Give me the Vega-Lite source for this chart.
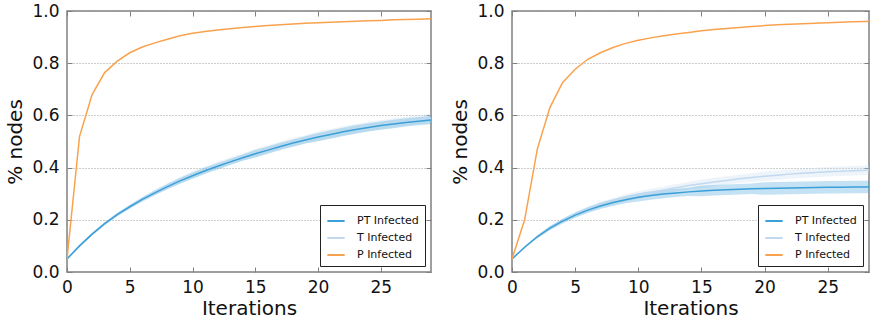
{
  "$schema": "https://vega.github.io/schema/vega-lite/v6.json",
  "padding": {"left": 5, "top": 1, "right": 0, "bottom": 0},
  "background": "white",
  "spacing": 81,
  "bounds": "flush",
  "datasets": {
    "L": [
      {"it":0,"s":"T Infected","v":0.05,"lo":0.05,"hi":0.05},
      {"it":1,"s":"T Infected","v":0.10,"lo":0.095,"hi":0.105},
      {"it":2,"s":"T Infected","v":0.145,"lo":0.139,"hi":0.151},
      {"it":3,"s":"T Infected","v":0.185,"lo":0.178,"hi":0.192},
      {"it":4,"s":"T Infected","v":0.22,"lo":0.212,"hi":0.228},
      {"it":5,"s":"T Infected","v":0.25,"lo":0.241,"hi":0.259},
      {"it":6,"s":"T Infected","v":0.279,"lo":0.269,"hi":0.289},
      {"it":7,"s":"T Infected","v":0.305,"lo":0.294,"hi":0.316},
      {"it":8,"s":"T Infected","v":0.329,"lo":0.317,"hi":0.341},
      {"it":9,"s":"T Infected","v":0.351,"lo":0.338,"hi":0.364},
      {"it":10,"s":"T Infected","v":0.371,"lo":0.357,"hi":0.385},
      {"it":11,"s":"T Infected","v":0.390,"lo":0.376,"hi":0.404},
      {"it":12,"s":"T Infected","v":0.408,"lo":0.394,"hi":0.422},
      {"it":13,"s":"T Infected","v":0.425,"lo":0.411,"hi":0.439},
      {"it":14,"s":"T Infected","v":0.441,"lo":0.427,"hi":0.455},
      {"it":15,"s":"T Infected","v":0.456,"lo":0.440,"hi":0.472},
      {"it":16,"s":"T Infected","v":0.470,"lo":0.454,"hi":0.486},
      {"it":17,"s":"T Infected","v":0.484,"lo":0.468,"hi":0.500},
      {"it":18,"s":"T Infected","v":0.497,"lo":0.481,"hi":0.513},
      {"it":19,"s":"T Infected","v":0.509,"lo":0.493,"hi":0.525},
      {"it":20,"s":"T Infected","v":0.520,"lo":0.502,"hi":0.538},
      {"it":21,"s":"T Infected","v":0.530,"lo":0.512,"hi":0.548},
      {"it":22,"s":"T Infected","v":0.540,"lo":0.522,"hi":0.558},
      {"it":23,"s":"T Infected","v":0.549,"lo":0.531,"hi":0.567},
      {"it":24,"s":"T Infected","v":0.557,"lo":0.539,"hi":0.575},
      {"it":25,"s":"T Infected","v":0.564,"lo":0.546,"hi":0.582},
      {"it":26,"s":"T Infected","v":0.571,"lo":0.553,"hi":0.589},
      {"it":27,"s":"T Infected","v":0.577,"lo":0.559,"hi":0.595},
      {"it":28,"s":"T Infected","v":0.583,"lo":0.565,"hi":0.601},
      {"it":29,"s":"T Infected","v":0.588,"lo":0.570,"hi":0.606},
      {"it":0,"s":"PT Infected","v":0.05,"lo":0.05,"hi":0.05},
      {"it":1,"s":"PT Infected","v":0.10,"lo":0.097,"hi":0.103},
      {"it":2,"s":"PT Infected","v":0.145,"lo":0.141,"hi":0.149},
      {"it":3,"s":"PT Infected","v":0.185,"lo":0.180,"hi":0.190},
      {"it":4,"s":"PT Infected","v":0.22,"lo":0.214,"hi":0.226},
      {"it":5,"s":"PT Infected","v":0.25,"lo":0.243,"hi":0.257},
      {"it":6,"s":"PT Infected","v":0.278,"lo":0.270,"hi":0.286},
      {"it":7,"s":"PT Infected","v":0.303,"lo":0.294,"hi":0.312},
      {"it":8,"s":"PT Infected","v":0.327,"lo":0.317,"hi":0.337},
      {"it":9,"s":"PT Infected","v":0.349,"lo":0.338,"hi":0.360},
      {"it":10,"s":"PT Infected","v":0.369,"lo":0.357,"hi":0.381},
      {"it":11,"s":"PT Infected","v":0.388,"lo":0.376,"hi":0.400},
      {"it":12,"s":"PT Infected","v":0.405,"lo":0.393,"hi":0.417},
      {"it":13,"s":"PT Infected","v":0.422,"lo":0.410,"hi":0.434},
      {"it":14,"s":"PT Infected","v":0.438,"lo":0.426,"hi":0.450},
      {"it":15,"s":"PT Infected","v":0.453,"lo":0.439,"hi":0.467},
      {"it":16,"s":"PT Infected","v":0.467,"lo":0.453,"hi":0.481},
      {"it":17,"s":"PT Infected","v":0.481,"lo":0.467,"hi":0.495},
      {"it":18,"s":"PT Infected","v":0.494,"lo":0.480,"hi":0.508},
      {"it":19,"s":"PT Infected","v":0.506,"lo":0.492,"hi":0.520},
      {"it":20,"s":"PT Infected","v":0.517,"lo":0.501,"hi":0.533},
      {"it":21,"s":"PT Infected","v":0.527,"lo":0.511,"hi":0.543},
      {"it":22,"s":"PT Infected","v":0.537,"lo":0.521,"hi":0.553},
      {"it":23,"s":"PT Infected","v":0.546,"lo":0.530,"hi":0.562},
      {"it":24,"s":"PT Infected","v":0.554,"lo":0.538,"hi":0.570},
      {"it":25,"s":"PT Infected","v":0.561,"lo":0.545,"hi":0.577},
      {"it":26,"s":"PT Infected","v":0.567,"lo":0.551,"hi":0.583},
      {"it":27,"s":"PT Infected","v":0.573,"lo":0.557,"hi":0.589},
      {"it":28,"s":"PT Infected","v":0.578,"lo":0.562,"hi":0.594},
      {"it":29,"s":"PT Infected","v":0.582,"lo":0.566,"hi":0.598},
      {"it":0,"s":"P Infected","v":0.05},
      {"it":1,"s":"P Infected","v":0.52},
      {"it":2,"s":"P Infected","v":0.68},
      {"it":3,"s":"P Infected","v":0.764},
      {"it":4,"s":"P Infected","v":0.808},
      {"it":5,"s":"P Infected","v":0.84},
      {"it":6,"s":"P Infected","v":0.862},
      {"it":7,"s":"P Infected","v":0.878},
      {"it":8,"s":"P Infected","v":0.892},
      {"it":9,"s":"P Infected","v":0.905},
      {"it":10,"s":"P Infected","v":0.915},
      {"it":11,"s":"P Infected","v":0.921},
      {"it":12,"s":"P Infected","v":0.927},
      {"it":13,"s":"P Infected","v":0.932},
      {"it":14,"s":"P Infected","v":0.937},
      {"it":15,"s":"P Infected","v":0.941},
      {"it":16,"s":"P Infected","v":0.944},
      {"it":17,"s":"P Infected","v":0.947},
      {"it":18,"s":"P Infected","v":0.950},
      {"it":19,"s":"P Infected","v":0.953},
      {"it":20,"s":"P Infected","v":0.955},
      {"it":21,"s":"P Infected","v":0.957},
      {"it":22,"s":"P Infected","v":0.959},
      {"it":23,"s":"P Infected","v":0.961},
      {"it":24,"s":"P Infected","v":0.963},
      {"it":25,"s":"P Infected","v":0.964},
      {"it":26,"s":"P Infected","v":0.966},
      {"it":27,"s":"P Infected","v":0.967},
      {"it":28,"s":"P Infected","v":0.968},
      {"it":29,"s":"P Infected","v":0.970}
    ],
    "R": [
      {"it":0,"s":"T Infected","v":0.05,"lo":0.05,"hi":0.05},
      {"it":1,"s":"T Infected","v":0.095,"lo":0.091,"hi":0.099},
      {"it":2,"s":"T Infected","v":0.135,"lo":0.129,"hi":0.141},
      {"it":3,"s":"T Infected","v":0.168,"lo":0.160,"hi":0.176},
      {"it":4,"s":"T Infected","v":0.196,"lo":0.187,"hi":0.205},
      {"it":5,"s":"T Infected","v":0.220,"lo":0.210,"hi":0.230},
      {"it":6,"s":"T Infected","v":0.240,"lo":0.229,"hi":0.251},
      {"it":7,"s":"T Infected","v":0.257,"lo":0.245,"hi":0.269},
      {"it":8,"s":"T Infected","v":0.271,"lo":0.258,"hi":0.284},
      {"it":9,"s":"T Infected","v":0.284,"lo":0.270,"hi":0.298},
      {"it":10,"s":"T Infected","v":0.295,"lo":0.281,"hi":0.309},
      {"it":11,"s":"T Infected","v":0.305,"lo":0.291,"hi":0.319},
      {"it":12,"s":"T Infected","v":0.314,"lo":0.300,"hi":0.328},
      {"it":13,"s":"T Infected","v":0.323,"lo":0.309,"hi":0.337},
      {"it":14,"s":"T Infected","v":0.331,"lo":0.317,"hi":0.345},
      {"it":15,"s":"T Infected","v":0.338,"lo":0.322,"hi":0.354},
      {"it":16,"s":"T Infected","v":0.345,"lo":0.329,"hi":0.361},
      {"it":17,"s":"T Infected","v":0.351,"lo":0.335,"hi":0.367},
      {"it":18,"s":"T Infected","v":0.357,"lo":0.341,"hi":0.373},
      {"it":19,"s":"T Infected","v":0.362,"lo":0.346,"hi":0.378},
      {"it":20,"s":"T Infected","v":0.367,"lo":0.349,"hi":0.385},
      {"it":21,"s":"T Infected","v":0.371,"lo":0.353,"hi":0.389},
      {"it":22,"s":"T Infected","v":0.375,"lo":0.357,"hi":0.393},
      {"it":23,"s":"T Infected","v":0.378,"lo":0.360,"hi":0.396},
      {"it":24,"s":"T Infected","v":0.381,"lo":0.363,"hi":0.399},
      {"it":25,"s":"T Infected","v":0.384,"lo":0.366,"hi":0.402},
      {"it":26,"s":"T Infected","v":0.386,"lo":0.368,"hi":0.404},
      {"it":27,"s":"T Infected","v":0.388,"lo":0.370,"hi":0.406},
      {"it":28,"s":"T Infected","v":0.390,"lo":0.372,"hi":0.408},
      {"it":29,"s":"T Infected","v":0.392,"lo":0.374,"hi":0.410},
      {"it":0,"s":"PT Infected","v":0.05,"lo":0.05,"hi":0.05},
      {"it":1,"s":"PT Infected","v":0.095,"lo":0.091,"hi":0.099},
      {"it":2,"s":"PT Infected","v":0.135,"lo":0.129,"hi":0.141},
      {"it":3,"s":"PT Infected","v":0.168,"lo":0.160,"hi":0.176},
      {"it":4,"s":"PT Infected","v":0.195,"lo":0.186,"hi":0.204},
      {"it":5,"s":"PT Infected","v":0.218,"lo":0.208,"hi":0.228},
      {"it":6,"s":"PT Infected","v":0.237,"lo":0.226,"hi":0.248},
      {"it":7,"s":"PT Infected","v":0.253,"lo":0.241,"hi":0.265},
      {"it":8,"s":"PT Infected","v":0.266,"lo":0.253,"hi":0.279},
      {"it":9,"s":"PT Infected","v":0.277,"lo":0.263,"hi":0.291},
      {"it":10,"s":"PT Infected","v":0.286,"lo":0.270,"hi":0.302},
      {"it":11,"s":"PT Infected","v":0.293,"lo":0.277,"hi":0.309},
      {"it":12,"s":"PT Infected","v":0.299,"lo":0.283,"hi":0.315},
      {"it":13,"s":"PT Infected","v":0.303,"lo":0.287,"hi":0.319},
      {"it":14,"s":"PT Infected","v":0.307,"lo":0.291,"hi":0.323},
      {"it":15,"s":"PT Infected","v":0.310,"lo":0.290,"hi":0.330},
      {"it":16,"s":"PT Infected","v":0.313,"lo":0.293,"hi":0.333},
      {"it":17,"s":"PT Infected","v":0.315,"lo":0.295,"hi":0.335},
      {"it":18,"s":"PT Infected","v":0.317,"lo":0.297,"hi":0.337},
      {"it":19,"s":"PT Infected","v":0.319,"lo":0.299,"hi":0.339},
      {"it":20,"s":"PT Infected","v":0.320,"lo":0.296,"hi":0.344},
      {"it":21,"s":"PT Infected","v":0.321,"lo":0.297,"hi":0.345},
      {"it":22,"s":"PT Infected","v":0.322,"lo":0.298,"hi":0.346},
      {"it":23,"s":"PT Infected","v":0.323,"lo":0.299,"hi":0.347},
      {"it":24,"s":"PT Infected","v":0.324,"lo":0.300,"hi":0.348},
      {"it":25,"s":"PT Infected","v":0.325,"lo":0.301,"hi":0.349},
      {"it":26,"s":"PT Infected","v":0.325,"lo":0.301,"hi":0.349},
      {"it":27,"s":"PT Infected","v":0.326,"lo":0.302,"hi":0.350},
      {"it":28,"s":"PT Infected","v":0.326,"lo":0.302,"hi":0.350},
      {"it":29,"s":"PT Infected","v":0.327,"lo":0.303,"hi":0.351},
      {"it":0,"s":"P Infected","v":0.05},
      {"it":1,"s":"P Infected","v":0.20},
      {"it":2,"s":"P Infected","v":0.47},
      {"it":3,"s":"P Infected","v":0.63},
      {"it":4,"s":"P Infected","v":0.725},
      {"it":5,"s":"P Infected","v":0.777},
      {"it":6,"s":"P Infected","v":0.815},
      {"it":7,"s":"P Infected","v":0.84},
      {"it":8,"s":"P Infected","v":0.86},
      {"it":9,"s":"P Infected","v":0.876},
      {"it":10,"s":"P Infected","v":0.888},
      {"it":11,"s":"P Infected","v":0.897},
      {"it":12,"s":"P Infected","v":0.905},
      {"it":13,"s":"P Infected","v":0.912},
      {"it":14,"s":"P Infected","v":0.918},
      {"it":15,"s":"P Infected","v":0.924},
      {"it":16,"s":"P Infected","v":0.929},
      {"it":17,"s":"P Infected","v":0.933},
      {"it":18,"s":"P Infected","v":0.937},
      {"it":19,"s":"P Infected","v":0.941},
      {"it":20,"s":"P Infected","v":0.944},
      {"it":21,"s":"P Infected","v":0.947},
      {"it":22,"s":"P Infected","v":0.949},
      {"it":23,"s":"P Infected","v":0.951},
      {"it":24,"s":"P Infected","v":0.953},
      {"it":25,"s":"P Infected","v":0.955},
      {"it":26,"s":"P Infected","v":0.957},
      {"it":27,"s":"P Infected","v":0.959},
      {"it":28,"s":"P Infected","v":0.960},
      {"it":29,"s":"P Infected","v":0.962}
    ]
  },
  "hconcat": [
    {
      "width": 364,
      "height": 261,
      "data": {"name": "L"},
      "resolve": {"axis": {"x": "independent", "y": "independent"}},
      "layer": [
        {
          "transform": [{"filter": "datum.s !== 'P Infected'"}],
          "mark": {"type": "area", "opacity": 0.3, "clip": true},
          "encoding": {
            "x": {"field": "it", "type": "quantitative", "scale": {"domain": [0, 29], "nice": false, "zero": false},
                  "axis": {"orient": "top", "labels": false, "title": null, "grid": false, "values": [0,5,10,15,20,25]}},
            "y": {"field": "lo", "type": "quantitative", "scale": {"domain": [0, 1], "nice": false},
                  "axis": {"orient": "right", "labels": false, "title": null, "grid": false, "values": [0,0.2,0.4,0.6,0.8,1]}},
            "y2": {"field": "hi"},
            "color": {"field": "s", "type": "nominal", "legend": {"orient": "bottom-right", "title": null},
                      "scale": {"domain": ["PT Infected", "T Infected", "P Infected"], "range": ["#3b9fd8", "#c3d9ef", "#f9a24e"]}}
          }
        },
        {
          "mark": {"type": "line", "strokeWidth": 1.5, "clip": true},
          "encoding": {
            "x": {"field": "it", "type": "quantitative",
                  "axis": {"orient": "bottom", "title": "Iterations", "values": [0,5,10,15,20,25], "grid": false}},
            "y": {"field": "v", "type": "quantitative",
                  "axis": {"orient": "left", "title": "% nodes", "values": [0,0.2,0.4,0.6,0.8,1], "format": ".1f", "grid": true}},
            "color": {"field": "s", "type": "nominal",
                      "legend": {"orient": "bottom-right", "title": null}}
          }
        }
      ]
    },
    {
      "width": 357,
      "height": 261,
      "data": {"name": "R"},
      "resolve": {"axis": {"x": "independent", "y": "independent"}},
      "layer": [
        {
          "transform": [{"filter": "datum.s !== 'P Infected'"}],
          "mark": {"type": "area", "opacity": 0.3, "clip": true},
          "encoding": {
            "x": {"field": "it", "type": "quantitative", "scale": {"domain": [0, 28.27], "nice": false, "zero": false},
                  "axis": {"orient": "top", "labels": false, "title": null, "grid": false, "values": [0,5,10,15,20,25]}},
            "y": {"field": "lo", "type": "quantitative", "scale": {"domain": [0, 1], "nice": false},
                  "axis": {"orient": "right", "labels": false, "title": null, "grid": false, "values": [0,0.2,0.4,0.6,0.8,1]}},
            "y2": {"field": "hi"},
            "color": {"field": "s", "type": "nominal", "legend": {"orient": "bottom-right", "title": null},
                      "scale": {"domain": ["PT Infected", "T Infected", "P Infected"], "range": ["#3b9fd8", "#c3d9ef", "#f9a24e"]}}
          }
        },
        {
          "mark": {"type": "line", "strokeWidth": 1.5, "clip": true},
          "encoding": {
            "x": {"field": "it", "type": "quantitative",
                  "axis": {"orient": "bottom", "title": "Iterations", "values": [0,5,10,15,20,25], "grid": false}},
            "y": {"field": "v", "type": "quantitative",
                  "axis": {"orient": "left", "title": "% nodes", "values": [0,0.2,0.4,0.6,0.8,1], "format": ".1f", "grid": true}},
            "color": {"field": "s", "type": "nominal",
                      "legend": {"orient": "bottom-right", "title": null}}
          }
        }
      ]
    }
  ],
  "resolve": {"scale": {"x": "independent"}, "legend": {"color": "independent"}},
  "config": {
    "font": "DejaVu Sans",
    "view": {"stroke": "#808080", "strokeWidth": 1.5},
    "axis": {
      "domain": false,
      "labelFont": "DejaVu Sans",
      "labelFontSize": 17,
      "labelColor": "#111",
      "labelFlush": false,
      "titleFont": "DejaVu Sans",
      "titleFontSize": 20,
      "titleFontWeight": "normal",
      "titleColor": "#111",
      "tickColor": "#808080",
      "tickSize": -5,
      "tickWidth": 1,
      "labelPadding": 13,
      "gridColor": "#9a9a9a",
      "gridDash": [1, 2],
      "gridWidth": 1
    },
    "axisX": {"titlePadding": 3, "labelPadding": 12},
    "axisY": {"titlePadding": 6},
    "legend": {
      "strokeColor": "#222",
      "fillColor": "white",
      "padding": 6,
      "offset": 6,
      "cornerRadius": 0,
      "symbolType": "stroke",
      "symbolStrokeWidth": 2,
      "symbolSize": 300,
      "symbolOpacity": 1,
      "labelFont": "DejaVu Sans",
      "labelFontSize": 11,
      "labelColor": "#111",
      "labelOffset": 11,
      "rowPadding": 2
    }
  }
}
